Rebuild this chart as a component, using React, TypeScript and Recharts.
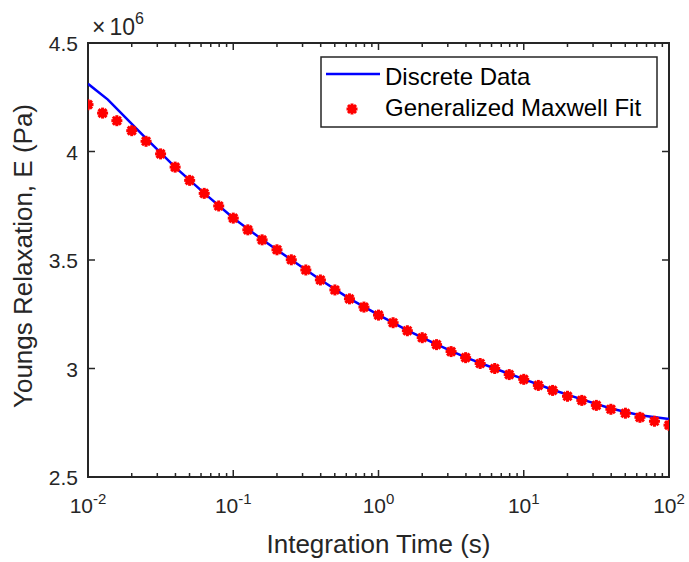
import React from 'react';
import { ScatterChart, Scatter, XAxis, YAxis, ReferenceArea, Legend } from 'recharts';

// integration times (s) for the fit markers, 10 per decade
const fitTimes = [
  0.01, 0.0126, 0.0158, 0.02, 0.0251, 0.0316, 0.0398, 0.0501, 0.0631, 0.0794,
  0.1, 0.126, 0.158, 0.2, 0.251, 0.316, 0.398, 0.501, 0.631, 0.794,
  1, 1.26, 1.58, 2, 2.51, 3.16, 3.98, 5.01, 6.31, 7.94,
  10, 12.6, 15.8, 20, 25.1, 31.6, 39.8, 50.1, 63.1, 79.4, 100,
];
// generalized Maxwell fit, E in units of 1e6 Pa
const fitValues = [
  4.216, 4.177, 4.142, 4.096, 4.047, 3.989, 3.928, 3.867, 3.807, 3.749,
  3.693, 3.639, 3.593, 3.547, 3.501, 3.454, 3.408, 3.362, 3.321, 3.283,
  3.246, 3.211, 3.174, 3.142, 3.110, 3.078, 3.050, 3.023, 3.000, 2.972,
  2.950, 2.922, 2.899, 2.872, 2.853, 2.830, 2.812, 2.794, 2.775, 2.757, 2.739,
];

// discrete relaxation data
const dataTimes = [
  0.01, 0.0137, 0.0251, 0.0398, 0.0631, 0.1, 0.158, 0.251, 0.398, 0.631,
  1, 1.58, 2.51, 3.98, 6.31, 10, 15.8, 25.1, 39.8, 63.1, 100,
];
const dataValues = [
  4.312, 4.239, 4.060, 3.928, 3.808, 3.694, 3.594, 3.501, 3.409, 3.322,
  3.247, 3.176, 3.111, 3.051, 3.0, 2.951, 2.902, 2.858, 2.816, 2.785, 2.767,
];

const xTicks = [
  0.01, 0.02, 0.03, 0.04, 0.05, 0.06, 0.07, 0.08, 0.09,
  0.1, 0.2, 0.3, 0.4, 0.5, 0.6, 0.7, 0.8, 0.9,
  1, 2, 3, 4, 5, 6, 7, 8, 9,
  10, 20, 30, 40, 50, 60, 70, 80, 90, 100,
];
const yTicks = [2.5, 3, 3.5, 4, 4.5];

const fitData = fitTimes.map((t, i) => ({ t, E: fitValues[i] }));
const discreteData = dataTimes.map((t, i) => ({ t, E: dataValues[i] }));

const PLOT = { left: 88, right: 669, top: 43, bottom: 477 };
const AXIS = '#262626';
const FONT = '"Liberation Sans", Arial, Helvetica, sans-serif';

const XTick = (props: any) => {
  const { x, payload } = props;
  const v = payload.value;
  const l = Math.log10(v);
  const major = Math.abs(l - Math.round(l)) < 1e-6;
  const len = major ? 7 : 4;
  return (
    <g>
      <line x1={x} x2={x} y1={PLOT.bottom} y2={PLOT.bottom - len} stroke={AXIS} strokeWidth={1.5} />
      <line x1={x} x2={x} y1={PLOT.top} y2={PLOT.top + len} stroke={AXIS} strokeWidth={1.5} />
      {major && (
        <text x={x} y={PLOT.bottom + 36} textAnchor="middle" fill={AXIS} fontSize={21} fontFamily={FONT}>
          10<tspan dy={-9} fontSize={15}>{String(Math.round(l))}</tspan>
        </text>
      )}
    </g>
  );
};

const YTick = (props: any) => {
  const { y, payload } = props;
  return (
    <g>
      <line x1={PLOT.left} x2={PLOT.left + 7} y1={y} y2={y} stroke={AXIS} strokeWidth={1.5} />
      <line x1={PLOT.right} x2={PLOT.right - 7} y1={y} y2={y} stroke={AXIS} strokeWidth={1.5} />
      <text x={PLOT.left - 10} y={y + 8} textAnchor="end" fill={AXIS} fontSize={21} fontFamily={FONT}>
        {String(payload.value)}
      </text>
    </g>
  );
};

// MATLAB-like '*' marker drawn thick
const Star = (props: any) => {
  const { cx, cy } = props;
  if (cx == null || cy == null) return <g />;
  const r = 5.5;
  const d = 4;
  return (
    <g stroke="#ff0000" strokeWidth={3}>
      <line x1={cx - r} x2={cx + r} y1={cy} y2={cy} />
      <line x1={cx} x2={cx} y1={cy - r} y2={cy + r} />
      <line x1={cx - d} x2={cx + d} y1={cy - d} y2={cy + d} />
      <line x1={cx - d} x2={cx + d} y1={cy + d} y2={cy - d} />
      <circle cx={cx} cy={cy} r={4.3} fill="#ff0000" stroke="none" />
    </g>
  );
};

const NoDot = () => <g />;

const LegendBox = () => (
  <svg width={338} height={72} style={{ display: 'block' }}>
    <rect x={1} y={1} width={336} height={70} fill="#fff" stroke={AXIS} strokeWidth={1.5} />
    <line x1={6} x2={60} y1={18} y2={18} stroke="#0000ff" strokeWidth={2.5} />
    <text x={65} y={29} fontSize={24} fill="#000" fontFamily={FONT}>Discrete Data</text>
    <Star cx={32} cy={53} />
    <text x={65} y={60} fontSize={24} fill="#000" fontFamily={FONT}>Generalized Maxwell Fit</text>
  </svg>
);

export default function App() {
  return (
    <div style={{ position: 'absolute', left: 0, top: 0, width: 689, height: 562, background: '#fff' }}>
      <ScatterChart width={689} height={562} margin={{ top: 43, right: 20, bottom: 0, left: 28 }}>
        <XAxis
          type="number"
          dataKey="t"
          scale="log"
          domain={[0.01, 100]}
          ticks={xTicks}
          interval={0}
          allowDataOverflow
          height={85}
          tickLine={false}
          tickSize={0}
          axisLine={{ stroke: AXIS, strokeWidth: 2 }}
          tick={<XTick />}
        />
        <YAxis
          type="number"
          dataKey="E"
          domain={[2.5, 4.5]}
          ticks={yTicks}
          interval={0}
          allowDataOverflow
          width={60}
          tickLine={false}
          tickSize={0}
          axisLine={{ stroke: AXIS, strokeWidth: 2 }}
          tick={<YTick />}
        />
        <ReferenceArea x1={0.01} x2={100} y1={2.5} y2={4.5} fill="none" stroke={AXIS} strokeWidth={2} ifOverflow="visible" />
        <Scatter
          name="Discrete Data"
          data={discreteData}
          line={{ stroke: '#0000ff', strokeWidth: 2.5 }}
          lineType="joint"
          shape={<NoDot />}
          isAnimationActive={false}
        />
        <Scatter
          name="Generalized Maxwell Fit"
          data={fitData}
          shape={<Star />}
          isAnimationActive={false}
        />
        <Legend
          layout="horizontal"
          align="center"
          verticalAlign="middle"
          content={() => <LegendBox />}
          wrapperStyle={{ position: 'absolute', left: 320, top: 56, width: 338, height: 72 }}
        />
        <text x={92} y={35} fill={AXIS} fontSize={23} fontFamily={FONT}>
          {'\u00d7'}
          <tspan dx={4}>10</tspan>
          <tspan dy={-11} fontSize={16}>6</tspan>
        </text>
        <text
          x={378.5}
          y={553}
          textAnchor="middle"
          fill={AXIS}
          fontSize={26}
          fontFamily={FONT}
        >
          Integration Time (s)
        </text>
        <text
          x={32}
          y={256}
          transform="rotate(-90 32 256)"
          textAnchor="middle"
          fill={AXIS}
          fontSize={26}
          fontFamily={FONT}
        >
          Youngs Relaxation, E (Pa)
        </text>
      </ScatterChart>
    </div>
  );
}
